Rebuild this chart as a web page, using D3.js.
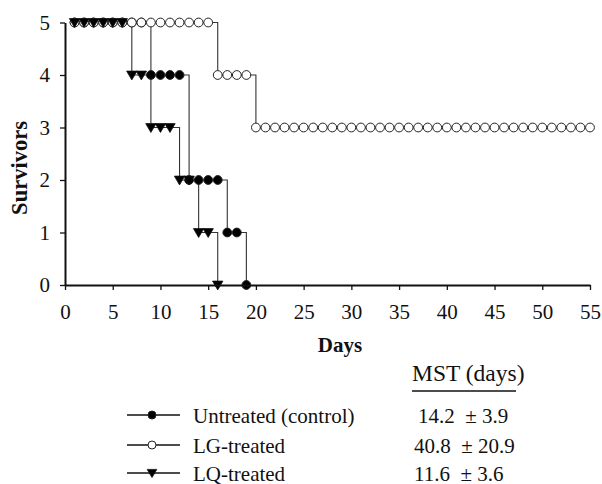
<!DOCTYPE html>
<html>
<head>
<meta charset="utf-8">
<script src="https://cdn.jsdelivr.net/npm/d3@7"></script>
<style>
  body { margin: 0; background: #fff; }
</style>
</head>
<body>
<div id="chart"></div>
<script>
// survivors per day, starting at day 1
const untreated = [5, 5, 5, 5, 5, 5, 5, 5, 4, 4, 4, 4, 2, 2, 2, 2, 1, 1, 0]
const lgTreated = [
  5, 5, 5, 5, 5, 5, 5, 5, 5, 5, 5, 5, 5, 5, 5,
  4, 4, 4, 4,
  3, 3, 3, 3, 3, 3, 3, 3, 3, 3, 3, 3, 3, 3, 3, 3, 3, 3,
  3, 3, 3, 3, 3, 3, 3, 3, 3, 3, 3, 3, 3, 3, 3, 3, 3, 3
]
const lqTreated = [5, 5, 5, 5, 5, 5, 4, 4, 3, 3, 3, 2, 2, 1, 1, 0]

const legendLabels = ['Untreated (control)', 'LG-treated', 'LQ-treated']
const mstValues = ['14.2  \u00b1 3.9', '40.8  \u00b1 20.9', '11.6  \u00b1 3.6']
const xTicks = [0, 5, 10, 15, 20, 25, 30, 35, 40, 45, 50, 55]
const yTicks = [0, 1, 2, 3, 4, 5]

const serif = "'Liberation Serif', 'Times New Roman', Times, serif"

const width = 602
const height = 484
const margin = { top: 22.5, left: 65, right: 12, bottom: 199 }

const svg = d3
  .select('#chart')
  .append('svg')
  .attr('width', width)
  .attr('height', height)
  .style('font-family', serif)

const x = d3.scaleLinear().domain([0, 55]).range([margin.left, width - margin.right])
const y = d3.scaleLinear().domain([0, 5]).range([height - margin.bottom, margin.top])

const toPoints = arr => arr.map((v, i) => [i + 1, v])

const line = d3
  .line()
  .x(d => x(d[0]))
  .y(d => y(d[1]))
  .curve(d3.curveStepAfter)

const series = [
  { name: 'untreated', data: toPoints(untreated), symbol: 'circle', fill: '#000' },
  { name: 'lg', data: toPoints(lgTreated), symbol: 'circle', fill: '#fff' },
  { name: 'lq', data: toPoints(lqTreated), symbol: 'triangle', fill: '#000' }
]

// downward triangle, flat edge on top
function triangle(cx, cy, s) {
  return `M${cx - s},${cy - s * 0.75}L${cx + s},${cy - s * 0.75}L${cx},${cy + s * 0.95}Z`
}

function drawMarker(g, sym, cx, cy, fill, r) {
  if (sym === 'circle') {
    g.append('circle')
      .attr('cx', cx)
      .attr('cy', cy)
      .attr('r', r)
      .attr('fill', fill)
      .attr('stroke', '#222')
      .attr('stroke-width', 1)
  } else {
    g.append('path')
      .attr('d', triangle(cx, cy, r + 0.8))
      .attr('fill', fill)
      .attr('stroke', '#111')
      .attr('stroke-width', 0.8)
  }
}

// step lines
series.forEach(s => {
  svg
    .append('path')
    .datum(s.data)
    .attr('d', line)
    .attr('fill', 'none')
    .attr('stroke', '#333')
    .attr('stroke-width', 1.1)
})

// markers
series.forEach(s => {
  const g = svg.append('g').attr('class', 'markers-' + s.name)
  s.data.forEach(d => drawMarker(g, s.symbol, x(d[0]), y(d[1]), s.fill, 4.4))
})

// axes
const xAxis = svg
  .append('g')
  .attr('transform', `translate(0,${y(0)})`)
  .call(
    d3.axisBottom(x).tickValues(xTicks).tickFormat(d3.format('d'))
      .tickSize(5).tickPadding(14).tickSizeOuter(0)
  )

const yAxis = svg
  .append('g')
  .attr('transform', `translate(${x(0)},0)`)
  .call(
    d3.axisLeft(y).tickValues(yTicks).tickFormat(d3.format('d'))
      .tickSize(5).tickPadding(10).tickSizeOuter(0)
  )

;[xAxis, yAxis].forEach(a => {
  a.attr('font-family', null).attr('font-size', null)
  a.select('.domain').attr('stroke', '#111').attr('stroke-width', 2)
  a.selectAll('.tick line').attr('stroke', '#111').attr('stroke-width', 1.3)
  a.selectAll('.tick text')
    .style('font-family', serif)
    .attr('font-size', 21)
    .attr('fill', '#111')
})

svg
  .append('text')
  .attr('transform', `translate(27,168) rotate(-90)`)
  .attr('text-anchor', 'middle')
  .attr('font-weight', 'bold')
  .attr('font-size', 22.5)
  .attr('fill', '#111')
  .text('Survivors')

svg
  .append('text')
  .attr('x', 340)
  .attr('y', 352)
  .attr('text-anchor', 'middle')
  .attr('font-weight', 'bold')
  .attr('font-size', 21)
  .attr('fill', '#111')
  .text('Days')

// legend + MST table
svg
  .append('text')
  .attr('x', 412)
  .attr('y', 381)
  .attr('font-size', 23.5)
  .attr('fill', '#111')
  .text('MST (days)')

svg
  .append('line')
  .attr('x1', 412)
  .attr('x2', 516)
  .attr('y1', 391)
  .attr('y2', 391)
  .attr('stroke', '#111')
  .attr('stroke-width', 1.5)

const rowY = [415, 445, 473]

series.forEach((s, i) => {
  const g = svg.append('g')
  g.append('line')
    .attr('x1', 127)
    .attr('x2', 180)
    .attr('y1', rowY[i])
    .attr('y2', rowY[i])
    .attr('stroke', '#111')
    .attr('stroke-width', 1.3)
  drawMarker(g, s.symbol, 152, rowY[i], s.fill, 4)

  g.append('text')
    .attr('x', 193)
    .attr('y', rowY[i] + 7.5)
    .attr('font-size', 21)
    .attr('fill', '#111')
    .text(legendLabels[i])

  g.append('text')
    .attr('x', i === 0 ? 418 : 414)
    .attr('y', rowY[i] + 7.5)
    .attr('font-size', 21)
    .attr('fill', '#111')
    .style('white-space', 'pre')
    .text(mstValues[i])
})
</script>
</body>
</html>
